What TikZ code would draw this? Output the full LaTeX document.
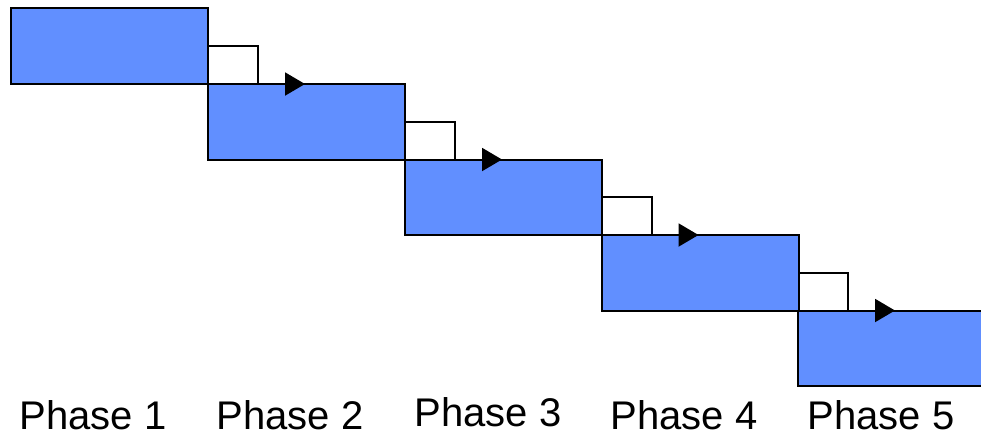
\documentclass[tikz,border=0pt]{standalone}
\usepackage{fontspec}
\setmainfont{Liberation Sans}
\usetikzlibrary{arrows.meta,calc}
\definecolor{phasefill}{RGB}{97,143,255}
\begin{document}
\begin{tikzpicture}[x=1pt,y=-1pt,
  phasebox/.style={draw=black,line width=2pt,fill=phasefill,anchor=north west,
    minimum width=197pt,minimum height=75.5pt,inner sep=0pt,outer sep=0pt},
  conn/.style={draw=black,line width=2pt,-{Triangle[length=20pt,width=23pt]}},
  phaselabel/.style={font=\fontsize{40}{44}\selectfont,anchor=base,inner sep=0pt}]
\useasboundingbox (0,0) rectangle (981,437);
\node[phasebox] (b1) at (11,8) {};
\node[phasebox] (b2) at (208,84) {};
\node[phasebox] (b3) at (405,159.5) {};
\node[phasebox] (b4) at (601.5,235) {};
\node[phasebox,minimum width=200pt] (b5) at (798,310.5) {};
\foreach \a/\b in {b1/b2,b2/b3,b3/b4,b4/b5}{
  \draw[conn] ($(\a.north east)!0.5!(\a.south east)$) -| ($(\b.north west)+(50,0)$) -- ($(\b.north west)+(97,0)$);
}
\node[phaselabel] (l1) at (93,429) {Phase 1};
\node[phaselabel] (l2) at (290,429) {Phase 2};
\node[phaselabel] (l3) at (488,426) {Phase 3};
\node[phaselabel] (l4) at (684,429) {Phase 4};
\node[phaselabel] (l5) at (881,429) {Phase 5};
\end{tikzpicture}
\end{document}
